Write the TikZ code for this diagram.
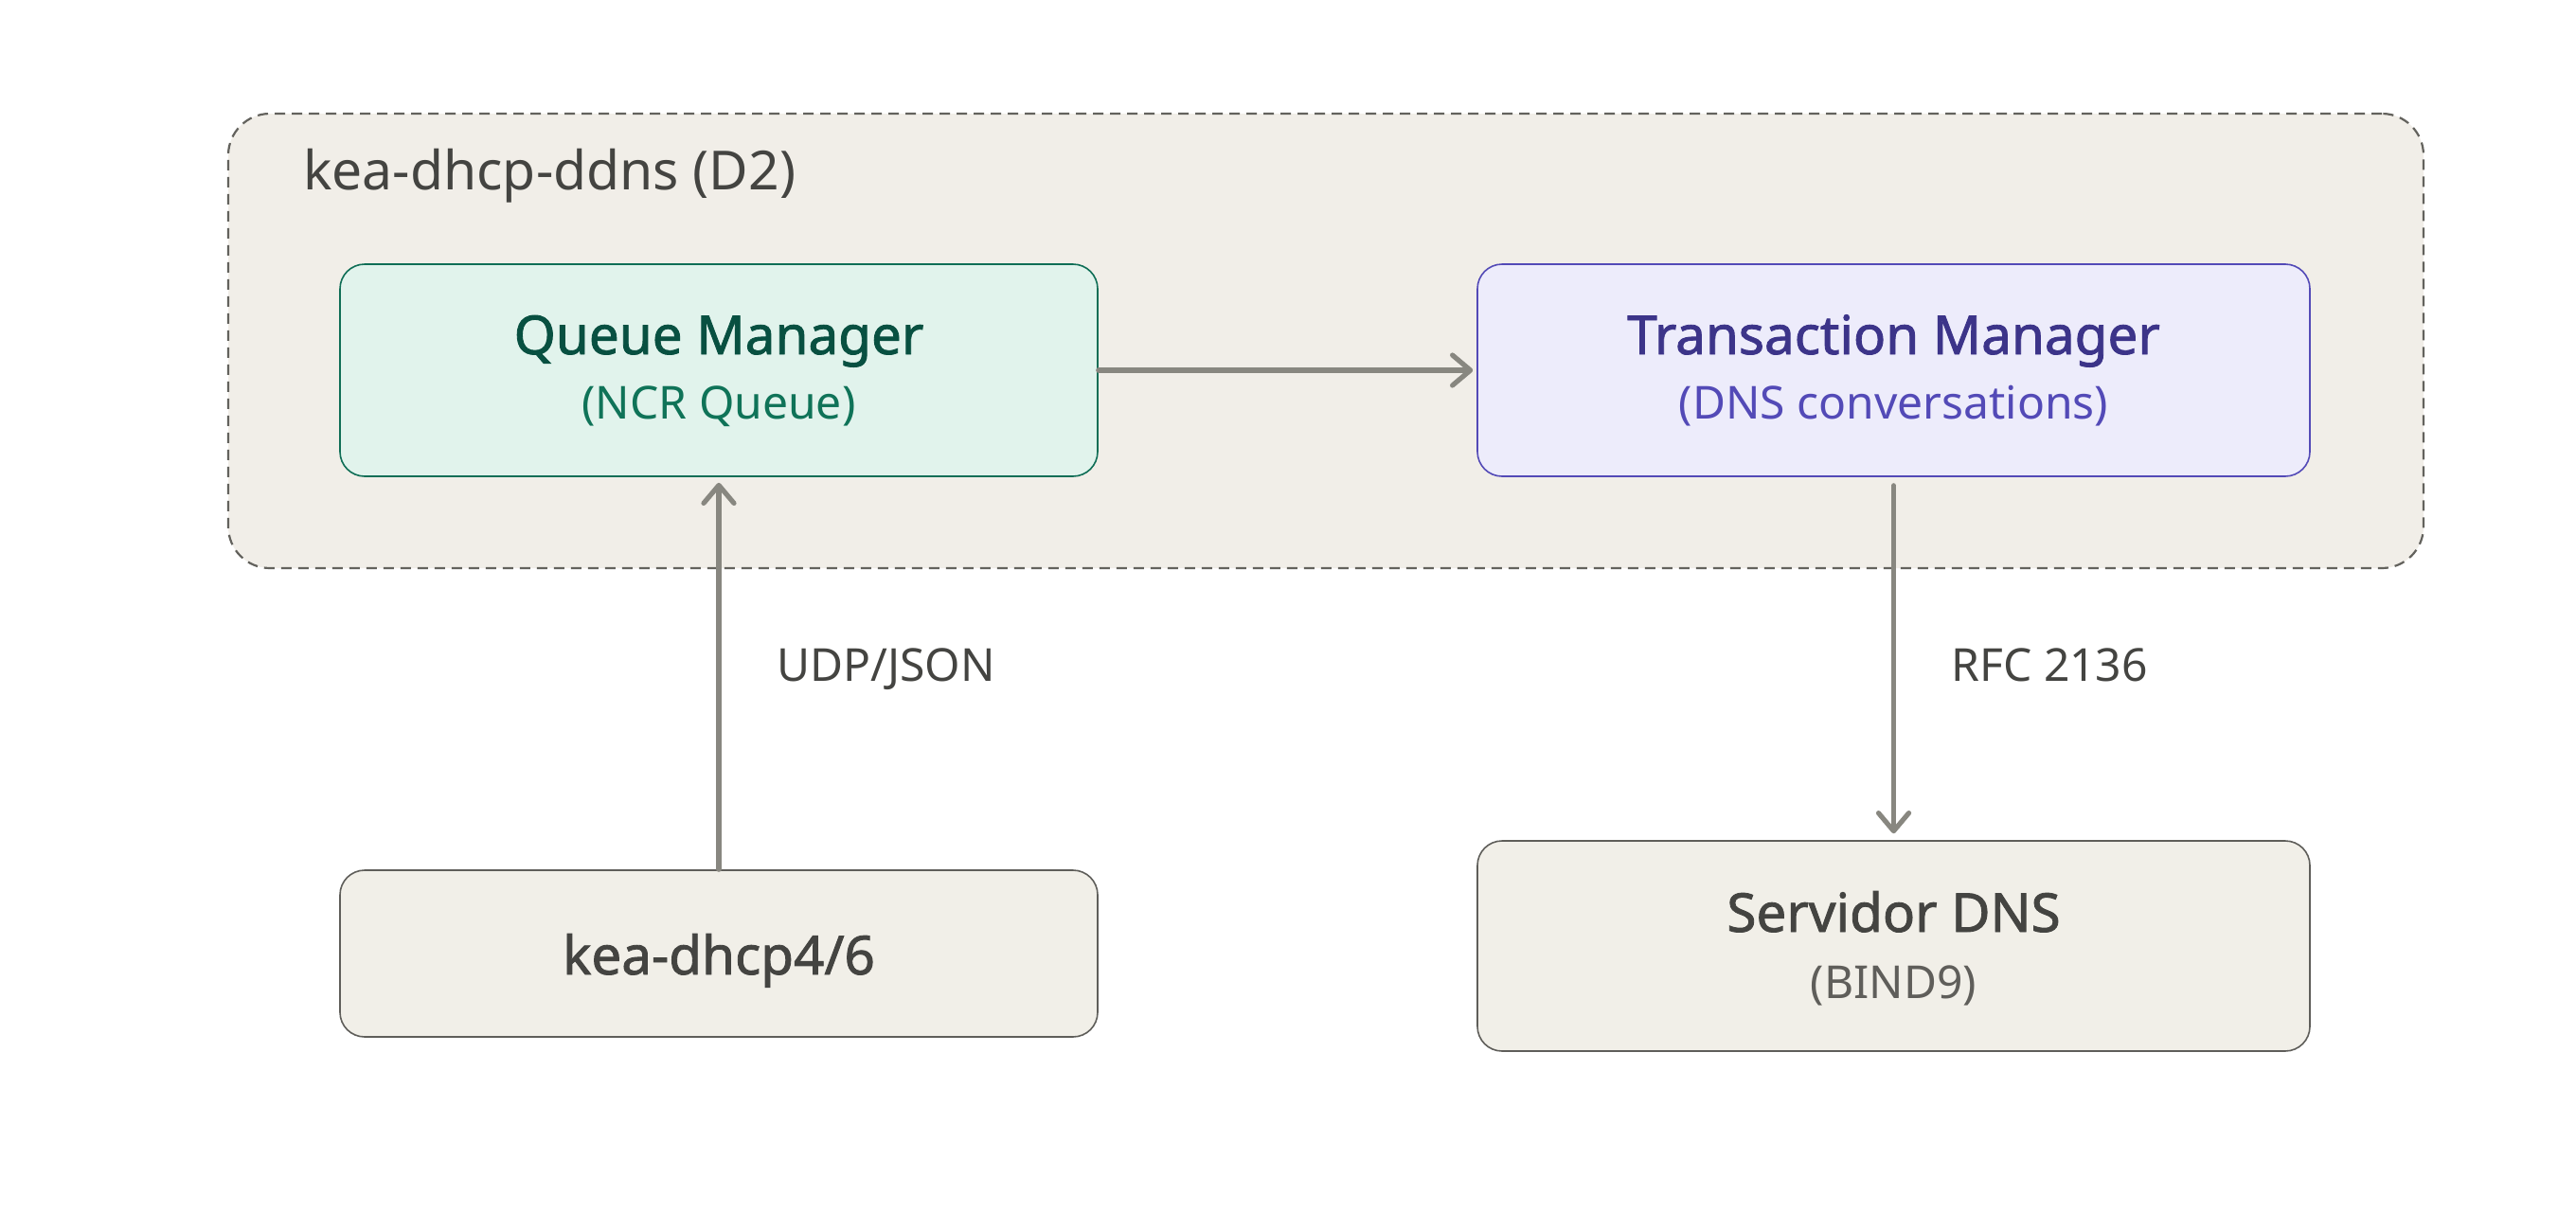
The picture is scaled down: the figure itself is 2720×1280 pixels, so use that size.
\documentclass[tikz,border=0pt]{standalone}
\usepackage{fontspec}
\setmainfont{Noto Sans}
\newfontfamily\semib{Noto Sans}[FakeBold=1.5]
\usetikzlibrary{arrows.meta}
\definecolor{outerfill}{HTML}{F1EEE8}
\definecolor{outerdraw}{HTML}{63625D}
\definecolor{qmfill}{HTML}{E1F3EC}
\definecolor{qmdraw}{HTML}{0F6E56}
\definecolor{qmtitle}{HTML}{085041}
\definecolor{qmsub}{HTML}{0F7358}
\definecolor{tmfill}{HTML}{EDECFB}
\definecolor{tmdraw}{HTML}{534AB7}
\definecolor{tmtitle}{HTML}{3C3489}
\definecolor{tmsub}{HTML}{534AB7}
\definecolor{grayfill}{HTML}{F1EFE8}
\definecolor{graydraw}{HTML}{5F5E5A}
\definecolor{graytitle}{HTML}{444441}
\definecolor{graysub}{HTML}{5F5E5A}
\definecolor{arrowc}{HTML}{888780}
\begin{document}
\begin{tikzpicture}[x=0.5pt,y=-0.5pt,
  outerbox/.style={draw=outerdraw, fill=outerfill, line width=1.1pt, dash pattern=on 5.5pt off 3.5pt,
    rounded corners=22pt, minimum width=1159pt, minimum height=240pt, inner sep=0pt},
  box/.style={rounded corners=13pt, line width=0.8pt, minimum width=400pt, inner sep=0pt},
  qmbox/.style={box, draw=qmdraw, fill=qmfill, minimum height=112pt},
  tmbox/.style={box, draw=tmdraw, fill=tmfill, minimum width=439.5pt, minimum height=112pt},
  graybox/.style={box, draw=graydraw, fill=grayfill},
  ttl/.style={font=\semib\fontsize{28.3}{30}\selectfont, anchor=base, inner sep=0pt},
  sub/.style={font=\fontsize{24}{26}\selectfont, anchor=base, inner sep=0pt},
  lbl/.style={font=\fontsize{24}{26}\selectfont, text=graytitle, anchor=base west, inner sep=0pt},
  arr/.style={draw=arrowc, line width=2.6pt, line cap=round,
    -{Straight Barb[length=9.5pt, width=16pt, line cap=round, line join=round]}}
]
\useasboundingbox (0,0) rectangle (2720,1280);
\fill[white] (0,0) rectangle (2720,1280);

\node[outerbox] (outer) at (1400,360) {};
\node[font=\fontsize{28.5}{30}\selectfont, text=graytitle, anchor=base west, inner sep=0pt] (outerlbl) at (320,200) {kea-dhcp-ddns (D2)};

\node[qmbox] (qm) at (759,391) {};
\node[ttl, text=qmtitle] (qmt) at (759,374) {Queue Manager};
\node[sub, text=qmsub] (qms) at (759,442) {(NCR Queue)};

\node[tmbox] (tm) at (1999.5,391) {};
\node[ttl, text=tmtitle] (tmt) at (1999.5,374) {Transaction Manager};
\node[sub, text=tmsub] (tms) at (1999.5,442) {(DNS conversations)};

\node[graybox, minimum height=88pt] (kea) at (759,1007) {};
\node[ttl, text=graytitle] (keat) at (759,1029) {kea-dhcp4/6};

\node[graybox, minimum width=439.5pt, minimum height=111pt] (dns) at (1999.5,999) {};
\node[ttl, text=graytitle] (dnst) at (1999.5,984) {Servidor DNS};
\node[sub, text=graysub] (dnss) at (1999.5,1054) {(BIND9)};

\draw[arr, shorten >=2pt] (qm.east) -- (tm.west);
\draw[arr, shorten >=3pt] (kea.north) -- (qm.south);
\draw[arr, shorten <=4.5pt, shorten >=3.5pt] (tm.south) -- (dns.north);

\node[lbl] (udp) at (820,719) {UDP/JSON};
\node[lbl] (rfc) at (2060,719) {RFC 2136};
\end{tikzpicture}
\end{document}
